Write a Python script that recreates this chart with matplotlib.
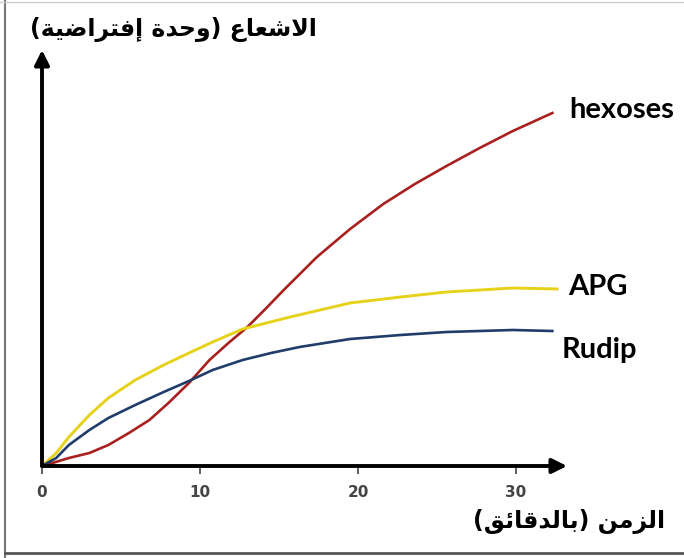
import matplotlib
matplotlib.use('Agg')
import matplotlib.pyplot as plt
from matplotlib.lines import Line2D

# readings from the picture (time in minutes, radioactivity in arbitrary units)
hex_t = [0, 0.25, 1.7, 3.0, 4.2, 5.5, 6.8, 8.0, 9.3, 10.6, 11.8, 13.0, 14.2, 15.3,
         17.4, 19.5, 21.6, 23.6, 25.6, 27.7, 29.8, 32.3]
hex_y = [0, 0.1, 0.8, 1.3, 2.1, 3.3, 4.6, 6.3, 8.3, 10.6, 12.3, 13.9, 15.8, 17.6,
         20.9, 23.7, 26.2, 28.2, 30.0, 31.8, 33.5, 35.3]

apg_t = [0, 0.9, 1.7, 3.0, 4.2, 5.9, 7.7, 9.3, 10.8, 12.7, 15.7, 19.5, 22.7, 25.6, 29.8, 32.6]
apg_y = [0, 1.3, 2.9, 5.1, 6.8, 8.6, 10.1, 11.3, 12.4, 13.7, 14.9, 16.3, 16.9, 17.4, 17.8, 17.7]

rud_t = [0, 0.9, 1.7, 3.0, 4.2, 5.9, 7.7, 9.3, 10.8, 12.7, 14.5, 16.3, 19.5, 22.7, 25.6, 29.8, 32.3]
rud_y = [0, 0.8, 2.1, 3.6, 4.8, 6.1, 7.4, 8.5, 9.6, 10.6, 11.3, 11.9, 12.7, 13.1, 13.4, 13.6, 13.5]

xticks = [0, 10, 20, 30]
ylabel = "الاشعاع (وحدة إفتراضية)"
xlabel = "الزمن (بالدقائق)"

# matplotlib has no arabic shaping, so pick presentation forms by hand
FORMS = {
    '\u0625': (0xFE87, 0xFE88, None, None),
    '\u0626': (0xFE89, 0xFE8A, 0xFE8B, 0xFE8C),
    '\u0627': (0xFE8D, 0xFE8E, None, None),
    '\u0628': (0xFE8F, 0xFE90, 0xFE91, 0xFE92),
    '\u0629': (0xFE93, 0xFE94, None, None),
    '\u062A': (0xFE95, 0xFE96, 0xFE97, 0xFE98),
    '\u062D': (0xFEA1, 0xFEA2, 0xFEA3, 0xFEA4),
    '\u062F': (0xFEA9, 0xFEAA, None, None),
    '\u0631': (0xFEAD, 0xFEAE, None, None),
    '\u0632': (0xFEAF, 0xFEB0, None, None),
    '\u0634': (0xFEB5, 0xFEB6, 0xFEB7, 0xFEB8),
    '\u0636': (0xFEBD, 0xFEBE, 0xFEBF, 0xFEC0),
    '\u0639': (0xFEC9, 0xFECA, 0xFECB, 0xFECC),
    '\u0641': (0xFED1, 0xFED2, 0xFED3, 0xFED4),
    '\u0642': (0xFED5, 0xFED6, 0xFED7, 0xFED8),
    '\u0644': (0xFEDD, 0xFEDE, 0xFEDF, 0xFEE0),
    '\u0645': (0xFEE1, 0xFEE2, 0xFEE3, 0xFEE4),
    '\u0646': (0xFEE5, 0xFEE6, 0xFEE7, 0xFEE8),
    '\u0648': (0xFEED, 0xFEEE, None, None),
    '\u064A': (0xFEF1, 0xFEF2, 0xFEF3, 0xFEF4),
}
LAM_ALEF = {'\u0627': (0xFEFB, 0xFEFC), '\u0625': (0xFEF9, 0xFEFA)}


def shape(text):
    out = []
    i = 0
    while i < len(text):
        c = text[i]
        if c not in FORMS:
            out.append(c)
            i += 1
            continue
        prev = text[i - 1] if i > 0 else None
        joins_prev = prev in FORMS and FORMS[prev][2] is not None
        if c == '\u0644' and i + 1 < len(text) and text[i + 1] in LAM_ALEF:
            iso, fin = LAM_ALEF[text[i + 1]]
            out.append(chr(fin if joins_prev else iso))
            i += 2
            continue
        nxt = text[i + 1] if i + 1 < len(text) else None
        joins_next = FORMS[c][2] is not None and nxt in FORMS
        iso, fin, ini, med = FORMS[c]
        if joins_prev and joins_next:
            g = med
        elif joins_prev:
            g = fin
        elif joins_next:
            g = ini
        else:
            g = iso
        out.append(chr(g))
        i += 1
    vis = ''.join(reversed(out))
    return vis.translate(str.maketrans('()', ')('))


W, H = 684, 558
fig = plt.figure(figsize=(W / 100, H / 100), dpi=100)
fig.patch.set_facecolor('white')

x0, x1, y0, y1 = 42, 567, 50, 466
ax = fig.add_axes([x0 / W, 1 - y1 / H, (x1 - x0) / W, (y1 - y0) / H])
ax.set_xlim(0, (x1 - x0) / 15.8)
ax.set_ylim(0, (y1 - y0) / 10)
for s in ax.spines.values():
    s.set_visible(False)
ax.set_facecolor('none')

ax.plot(hex_t, hex_y, color='#a8201f', lw=1.9, solid_joinstyle='round')
ax.plot(apg_t, apg_y, color='#e6d21a', lw=2.1, solid_joinstyle='round')
ax.plot(rud_t, rud_y, color='#1f3c6a', lw=1.9, solid_joinstyle='round')

# axes with arrow heads
ax.annotate('', xy=(1, 0), xytext=(0, 0), xycoords='axes fraction',
            arrowprops=dict(arrowstyle='-|>', lw=2.8, color='black',
                            mutation_scale=22, shrinkA=0, shrinkB=0))
ax.annotate('', xy=(0, 1), xytext=(0, 0), xycoords='axes fraction',
            arrowprops=dict(arrowstyle='-|>', lw=2.8, color='black',
                            mutation_scale=22, shrinkA=0, shrinkB=0))

ax.set_xticks(xticks)
ax.set_xticklabels([str(t) for t in xticks], fontsize=11, color='#444444',
                   fontweight='bold')
ax.tick_params(axis='x', length=6, width=1.2, color='#444444', pad=8)
ax.set_yticks([])

lab = dict(fontsize=21, fontweight='bold', family='Lato', color='black',
           va='center', ha='left', clip_on=False)
ax.text(33.4, 35.6, 'hexoses', **lab)
ax.text(33.3, 17.9, 'APG', **lab)
ax.text(32.9, 11.6, 'Rudip', **lab)

fig.text(30 / W, 1 - 30 / H, shape(ylabel), fontsize=17, fontweight='bold',
         family=['DejaVu Sans'], ha='left', va='center')
fig.text(665 / W, 1 - 522 / H, shape(xlabel), fontsize=17, fontweight='bold',
         family=['DejaVu Sans'], ha='right', va='center')

# outer frame of the picture
fig.add_artist(Line2D([5 / W, 5 / W], [0, 1], color='#777777', lw=1.5))
fig.add_artist(Line2D([5 / W, 1], [1 - 553 / H, 1 - 553 / H], color='#555555', lw=2))
fig.add_artist(Line2D([0, 1], [1 - 1.5 / H, 1 - 1.5 / H], color='#cccccc', lw=1))

fig.savefig('out.png', dpi=100)
